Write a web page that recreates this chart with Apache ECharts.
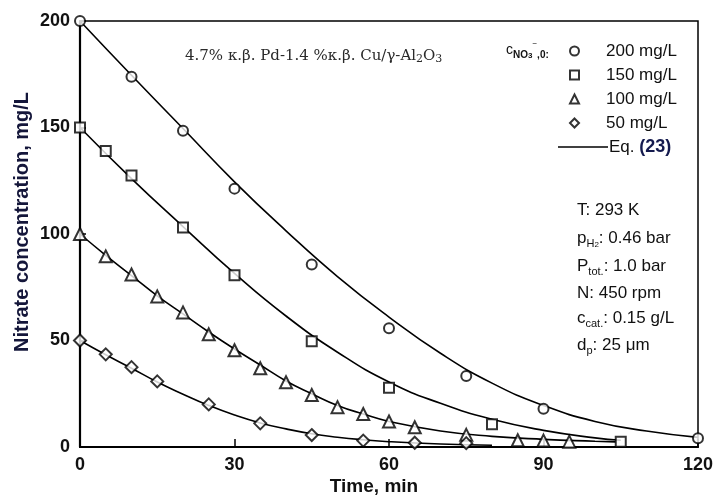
<!DOCTYPE html>
<html>
<head>
<meta charset="utf-8">
<script src="https://cdn.jsdelivr.net/npm/echarts@6/dist/echarts.min.js"></script>
<style>
  html, body { margin: 0; padding: 0; background: #fff; }
  #chart { width: 713px; height: 495px; }
</style>
</head>
<body>
<div id="chart"></div>
<script>
// Measured nitrate concentration (mg/L) vs time (min) for four initial loadings
const t200 = [0, 10, 20, 30, 45, 60, 75, 90, 120];
const c200 = [200, 173.8, 148.5, 121.3, 85.7, 55.7, 33.3, 18.0, 4.1];

const t150 = [0, 5, 10, 20, 30, 45, 60, 80, 105];
const c150 = [150, 139, 127.5, 103, 80.6, 49.6, 27.8, 10.7, 2.5];

const t100 = [0, 5, 10, 15, 20, 25, 30, 35, 40, 45, 50, 55, 60, 65, 75, 85, 90, 95];
const c100 = [100, 89.5, 81, 70.7, 63.2, 52.9, 45.4, 37, 30.4, 24.4, 18.7, 15.5, 12, 9.3, 5.7, 3.2, 3.0, 2.5];

const t50 = [0, 5, 10, 15, 25, 35, 45, 55, 65, 75];
const c50 = [50, 43.5, 37.5, 30.8, 20, 11.1, 5.6, 3.0, 2.0, 1.8];

// Model curves, Eq. (23)
const fitT200 = [0, 10, 20, 30, 40, 50, 60, 70, 80, 90, 100, 110, 120];
const fit200 = [200, 174.5, 149.5, 124.5, 101.5, 80, 61, 44, 30, 19.5, 12, 7.5, 4.5];

const fitT150 = [0, 10, 20, 30, 40, 50, 60, 70, 80, 90, 100, 105];
const fit150 = [150, 126, 103.5, 81.5, 61.5, 44.5, 30.5, 20.5, 13, 7.8, 4.3, 3.2];

const fitT100 = [0, 5, 10, 15, 20, 25, 30, 35, 40, 45, 50, 55, 60, 70, 80, 90, 100, 104];
const fit100 = [100, 90, 80.5, 71, 62.5, 54, 46, 38.5, 31, 25, 19.5, 15.5, 12, 7.5, 5, 3.6, 2.7, 2.4];

const fitT50 = [0, 5, 10, 15, 20, 25, 30, 35, 40, 45, 50, 55, 60, 70, 80];
const fit50 = [50, 43.3, 37, 30.5, 24.8, 19.5, 15, 11.3, 8.5, 6.2, 4.6, 3.4, 2.5, 1.4, 0.8];

const seriesNames = ['200 mg/L', '150 mg/L', '100 mg/L', '50 mg/L'];
const fitName = 'Eq. (23)';

const xTicks = { min: 0, max: 120, interval: 30 };
const yTicks = { min: 0, max: 200, interval: 50 };

const pairs = (ts, vs) => ts.map((t, i) => [t, vs[i]]);

const sans = 'Arial, "Liberation Sans", Helvetica, sans-serif';
const serif = '"DejaVu Serif", "Times New Roman", serif';
const ink = '#111';

const markerSeries = [
  { name: seriesNames[0], symbol: 'emptyCircle', size: 10, data: pairs(t200, c200) },
  { name: seriesNames[1], symbol: 'emptyRect', size: 10, data: pairs(t150, c150) },
  { name: seriesNames[2], symbol: 'emptyTriangle', size: 12, data: pairs(t100, c100) },
  { name: seriesNames[3], symbol: 'emptyDiamond', size: 12, data: pairs(t50, c50) }
].map(s => ({
  type: 'scatter',
  name: s.name,
  symbol: s.symbol,
  symbolSize: s.size,
  data: s.data,
  itemStyle: { color: '#000', borderColor: '#000', borderWidth: 1.1 },
  z: 5,
  silent: true
}));

const fitSeries = [
  pairs(fitT200, fit200), pairs(fitT150, fit150),
  pairs(fitT100, fit100), pairs(fitT50, fit50)
].map(d => ({
  type: 'line',
  name: fitName,
  data: d,
  smooth: true,
  symbol: 'none',
  showSymbol: false,
  lineStyle: { color: '#000', width: 1.6 },
  itemStyle: { color: '#000' },
  z: 3,
  silent: true
}));

const chart = echarts.init(document.getElementById('chart'), null, { renderer: 'canvas' });

const sub = (size) => ({ fontFamily: sans, fontSize: size, lineHeight: size, verticalAlign: 'bottom', color: ink });

chart.setOption({
  animation: false,
  backgroundColor: '#fff',
  grid: {
    left: 80, top: 21, width: 618, height: 426,
    outerBoundsMode: 'none',
    containLabel: false,
    show: true, borderColor: '#000', borderWidth: 1.5, backgroundColor: 'transparent'
  },
  xAxis: {
    type: 'value',
    min: xTicks.min, max: xTicks.max, interval: xTicks.interval,
    name: 'Time, min',
    nameLocation: 'middle',
    nameGap: 30,
    nameMoveOverlap: false,
    nameTextStyle: { fontFamily: sans, fontWeight: 'bold', fontSize: 19, color: ink, padding: [0, 30, 0, 0] },
    axisLine: { lineStyle: { color: '#000', width: 2.2 } },
    axisTick: { show: true, inside: true, length: 8, lineStyle: { color: '#000', width: 1.5 } },
    axisLabel: { fontFamily: sans, fontWeight: 'bold', fontSize: 18, color: ink, margin: 9 },
    splitLine: { show: false }
  },
  yAxis: {
    type: 'value',
    min: yTicks.min, max: yTicks.max, interval: yTicks.interval,
    axisLine: { show: true, lineStyle: { color: '#000', width: 2.2 } },
    axisTick: { show: true, inside: true, length: 6, lineStyle: { color: '#000', width: 1.5 } },
    axisLabel: { fontFamily: sans, fontWeight: 'bold', fontSize: 18, color: ink, margin: 10 },
    splitLine: { show: false }
  },
  legend: [
    {
      orient: 'vertical',
      left: 564, top: 37,
      itemWidth: 9, itemHeight: 9,
      itemGap: 6,
      selectedMode: false,
      data: seriesNames,
      textStyle: { fontFamily: sans, fontSize: 17, color: ink, lineHeight: 18, padding: [0, 0, 0, 22] }
    },
    {
      orient: 'vertical',
      left: 553, top: 133,
      itemWidth: 50, itemHeight: 1.5,
      selectedMode: false,
      data: [{ name: fitName, icon: 'rect' }],
      formatter: () => 'Eq. {b|(23)}',
      textStyle: {
        fontFamily: sans, fontSize: 17, color: ink, padding: [0, 0, 0, -4],
        rich: { b: { fontFamily: sans, fontSize: 18, fontWeight: 'bold', color: '#141a4e' } }
      }
    }
  ],
  graphic: [
    {
      type: 'text', x: 22, y: 222, rotation: Math.PI / 2,
      style: {
        text: 'Nitrate concentration, mg/L',
        fontFamily: sans, fontWeight: 'bold', fontSize: 20, fill: '#14163a',
        align: 'center', verticalAlign: 'middle'
      }
    },
    {
      type: 'text', x: 185, y: 56,
      style: {
        text: '4.7% κ.β. Pd-1.4 %κ.β. Cu/γ-Al{s|2}O{s|3}',
        fontFamily: serif, fontSize: 15, fill: '#2a2a2a',
        verticalAlign: 'middle', lineHeight: 18,
        rich: { s: { fontFamily: serif, fontSize: 11, lineHeight: 12, verticalAlign: 'bottom', color: '#2a2a2a' } }
      }
    },
    {
      type: 'text', x: 506, y: 50,
      style: {
        text: 'c{n|NO}{t|3}{u|−}{n|,0}{n|:}',
        fontFamily: sans, fontSize: 14, fill: ink,
        verticalAlign: 'middle', lineHeight: 20,
        rich: {
          n: { fontFamily: sans, fontSize: 10, fontWeight: 'bold', lineHeight: 13, verticalAlign: 'bottom', color: ink },
          t: { fontFamily: sans, fontSize: 8, fontWeight: 'bold', lineHeight: 8, verticalAlign: 'bottom', color: ink },
          u: { fontFamily: sans, fontSize: 8, lineHeight: 16, verticalAlign: 'top', color: ink }
        }
      }
    },
    { type: 'text', x: 577, y: 210, style: { text: 'T: 293 K', fontFamily: sans, fontSize: 17, fill: ink, verticalAlign: 'middle' } },
    {
      type: 'text', x: 577, y: 238,
      style: {
        text: 'p{s|H}{ss|2}: 0.46 bar', fontFamily: sans, fontSize: 17, fill: ink, verticalAlign: 'middle', lineHeight: 22,
        rich: { s: sub(11), ss: { fontFamily: sans, fontSize: 8, lineHeight: 6, verticalAlign: 'bottom', color: ink } }
      }
    },
    {
      type: 'text', x: 577, y: 266,
      style: {
        text: 'P{s|tot.}: 1.0 bar', fontFamily: sans, fontSize: 17, fill: ink, verticalAlign: 'middle', lineHeight: 22,
        rich: { s: sub(11) }
      }
    },
    { type: 'text', x: 577, y: 293, style: { text: 'N: 450 rpm', fontFamily: sans, fontSize: 17, fill: ink, verticalAlign: 'middle' } },
    {
      type: 'text', x: 577, y: 318,
      style: {
        text: 'c{s|cat.}: 0.15 g/L', fontFamily: sans, fontSize: 17, fill: ink, verticalAlign: 'middle', lineHeight: 22,
        rich: { s: sub(11) }
      }
    },
    {
      type: 'text', x: 577, y: 345,
      style: {
        text: 'd{s|p}: 25 μm', fontFamily: sans, fontSize: 17, fill: ink, verticalAlign: 'middle', lineHeight: 22,
        rich: { s: sub(11) }
      }
    }
  ],
  series: fitSeries.concat(markerSeries)
});
</script>
</body>
</html>
